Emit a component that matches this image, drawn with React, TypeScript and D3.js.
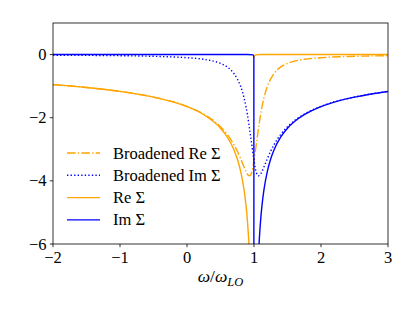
import * as d3 from 'd3';

const width = 415;
const height = 311;
const margin = { left: 53, right: 27, top: 23, bottom: 67 };

// broadened self-energy, sampled on one omega grid
const omegaBroad = [
  -2, -1.5, -1, -0.5, 0, 0.25, 0.5, 0.6, 0.7, 0.75, 0.8, 0.85, 0.88, 0.9, 0.92,
  0.93, 0.94, 0.96, 0.98, 1.0, 1.02, 1.04, 1.06, 1.07, 1.08, 1.1, 1.12, 1.15,
  1.2, 1.25, 1.3, 1.4, 1.5, 1.75, 2, 2.5, 3,
];
const broadRe = [
  -0.953, -1.044, -1.167, -1.347, -1.641, -1.887, -2.285, -2.526, -2.851,
  -3.055, -3.293, -3.552, -3.701, -3.781, -3.831, -3.839, -3.832, -3.764,
  -3.61, -3.35, -3.06, -2.75, -2.45, -2.3, -2.15, -1.88, -1.65, -1.36, -1.0,
  -0.77, -0.6, -0.39, -0.28, -0.15, -0.1, -0.055, -0.035,
];
const broadIm = [
  -0.019, -0.025, -0.035, -0.055, -0.1, -0.15, -0.28, -0.39, -0.6, -0.77, -1.0,
  -1.36, -1.65, -1.88, -2.15, -2.3, -2.45, -2.75, -3.06, -3.35, -3.61, -3.764,
  -3.832, -3.839, -3.831, -3.781, -3.701, -3.552, -3.293, -3.055, -2.851,
  -2.526, -2.285, -1.887, -1.641, -1.347, -1.167,
];

// bare self-energy (null = jump at the pole)
const omegaRe = [
  -2, -1.5, -1, -0.5, 0, 0.25, 0.5, 0.6, 0.7, 0.75, 0.8, 0.85, 0.88, 0.9, 0.92,
  0.94, 0.96, 0.98, 0.99, 0.997, 1.0, 1.003, 1.01, 1.03, 1.1, 1.5, 2, 3,
];
const bareRe: (number | null)[] = [
  -0.953, -1.044, -1.167, -1.347, -1.65, -1.905, -2.333, -2.609, -3.012, -3.3,
  -3.69, -4.26, -4.763, -5.218, -5.834, -6.736, -8.25, -11.67, -16.5, -52,
  null, -0.1, -0.03, -0.01, 0, 0, 0, 0,
];
const omegaIm = [
  -2, -1, 0, 0.5, 0.9, 0.99, 0.998, 1.0015, 1.005, 1.01, 1.02, 1.04, 1.06, 1.08,
  1.1, 1.12, 1.15, 1.2, 1.25, 1.3, 1.4, 1.5, 1.6, 1.75, 2, 2.25, 2.5, 2.75, 3,
];
const bareIm = [
  0, 0, 0, 0, 0, -0.01, -0.1, -52, -23.3, -16.5, -11.67, -8.25, -6.74, -5.83,
  -5.218, -4.763, -4.26, -3.69, -3.3, -3.012, -2.609, -2.333, -2.13, -1.905,
  -1.65, -1.476, -1.347, -1.247, -1.167,
];

const xTicks = [-2, -1, 0, 1, 2, 3];
const yTicks = [-6, -4, -2, 0];

const ORANGE = '#ffa500';
const BLUE = '#0000ff';
const font = 'Liberation Serif';

const series = [
  { label: 'Broadened Re Σ', xs: omegaBroad, ys: broadRe as (number | null)[], color: ORANGE, dash: '8.6,2.2,1.35,2.2' },
  { label: 'Broadened Im Σ', xs: omegaBroad, ys: broadIm as (number | null)[], color: BLUE, dash: '1.35,2.2' },
  { label: 'Re Σ', xs: omegaRe, ys: bareRe, color: ORANGE, dash: undefined },
  { label: 'Im Σ', xs: omegaIm, ys: bareIm as (number | null)[], color: BLUE, dash: undefined },
];

const fmt = (v: number) => String(v).replace('-', '\u2212');

export default function App() {
  const x = d3.scaleLinear().domain([-2, 3]).range([margin.left, width - margin.right]);
  const y = d3.scaleLinear().domain([-6, 1]).range([height - margin.bottom, margin.top]);
  const line = d3
    .line<[number, number | null]>()
    .defined((d) => d[1] !== null)
    .x((d) => x(d[0]))
    .y((d) => y(d[1] as number))
    .curve(d3.curveMonotoneX);

  const x0 = margin.left;
  const x1 = width - margin.right;
  const y0 = margin.top;
  const y1 = height - margin.bottom;

  return (
    <svg
      width={width}
      height={height}
      style={{ position: 'absolute', left: 0, top: 0, background: 'white' }}
    >
      <defs>
        <clipPath id="plot">
          <rect x={x0} y={y0} width={x1 - x0} height={y1 - y0} />
        </clipPath>
      </defs>

      <g clipPath="url(#plot)">
        {series.map((s) => (
          <path
            key={s.label}
            d={line(s.xs.map((v, i) => [v, s.ys[i]] as [number, number | null])) ?? ''}
            fill="none"
            stroke={s.color}
            strokeWidth={1.4}
            strokeDasharray={s.dash}
          />
        ))}
      </g>

      {/* legend, no frame */}
      <g>
        {series.map((s, i) => {
          const ly = 153 + i * 22.3;
          return (
            <g key={s.label}>
              <line x1={67} x2={100} y1={ly} y2={ly} stroke={s.color} strokeWidth={1.4} strokeDasharray={s.dash} />
              <text x={113} y={ly + 5.5} fill="black" style={{ fontFamily: font, fontSize: 16.5 }}>
                {s.label}
              </text>
            </g>
          );
        })}
      </g>

      <rect x={x0} y={y0} width={x1 - x0} height={y1 - y0} fill="none" stroke="black" strokeWidth={0.8} />

      <g>
        {xTicks.map((t) => (
          <g key={'x' + t}>
            <line x1={x(t)} x2={x(t)} y1={y1} y2={y1 + 3.2} stroke="black" strokeWidth={0.8} />
            <text x={x(t)} y={y1 + 18.5} textAnchor="middle" style={{ fontFamily: font, fontSize: 16.5 }}>
              {fmt(t)}
            </text>
          </g>
        ))}
        {yTicks.map((t) => (
          <g key={'y' + t}>
            <line x1={x0 - 3.2} x2={x0} y1={y(t)} y2={y(t)} stroke="black" strokeWidth={0.8} />
            <text x={x0 - 6.5} y={y(t) + 5.5} textAnchor="end" style={{ fontFamily: font, fontSize: 16.5 }}>
              {fmt(t)}
            </text>
          </g>
        ))}
      </g>

      <text x={(x0 + x1) / 2} y={282} textAnchor="middle" style={{ fontFamily: font, fontSize: 17.5 }}>
        <tspan fontStyle="italic">ω</tspan>
        <tspan>/</tspan>
        <tspan fontStyle="italic">ω</tspan>
        <tspan fontStyle="italic" fontSize={12.5} dy={3.5}>
          LO
        </tspan>
      </text>
    </svg>
  );
}
